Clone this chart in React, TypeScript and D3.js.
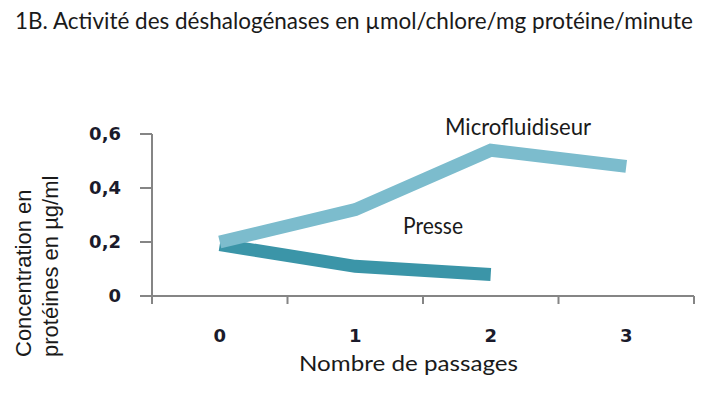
import React, { useEffect, useRef } from "react";
import * as d3 from "d3";

// data
const passages = ["0", "1", "2", "3"];
const microfluidiseur = [0.2, 0.32, 0.54, 0.48];
const presse = [0.19, 0.11, 0.08];
const yTicks = [0, 0.2, 0.4, 0.6];
const yTickLabels = ["0", "0,2", "0,4", "0,6"];

const title = "1B. Activité des déshalogénases en µmol/chlore/mg protéine/minute";

const W = 711;
const H = 396;

const App = () => {
  const svgRef = useRef<SVGSVGElement>(null);

  useEffect(() => {
    const svg = d3.select(svgRef.current);
    svg.selectAll("*").remove();

    const x = d3.scaleBand<string>().domain(passages).range([152, 694]);
    const y = d3.scaleLinear().domain([0, 0.6]).range([296, 134]);
    const cx = (i: number) => (x(passages[i]) as number) + x.bandwidth() / 2;

    const axisColor = "#858585";
    const labelColor = "#1b1b2b";
    const geo = "Lato, 'Open Sans', sans-serif";

    // title
    svg.append("text")
      .attr("x", 15)
      .attr("y", 29)
      .attr("textLength", 678)
      .attr("lengthAdjust", "spacingAndGlyphs")
      .attr("font-family", geo)
      .attr("font-size", 23)
      .attr("fill", "#1a1a1a")
      .text(title);

    // axes lines
    svg.append("line")
      .attr("x1", 152).attr("x2", 152)
      .attr("y1", y(0.6)).attr("y2", 303)
      .attr("stroke", axisColor).attr("stroke-width", 2);
    svg.append("line")
      .attr("x1", 140).attr("x2", 694)
      .attr("y1", y(0)).attr("y2", y(0))
      .attr("stroke", axisColor).attr("stroke-width", 2);

    // y ticks + labels
    yTicks.forEach((t, i) => {
      svg.append("line")
        .attr("x1", 140).attr("x2", 152)
        .attr("y1", y(t)).attr("y2", y(t))
        .attr("stroke", axisColor).attr("stroke-width", 2);
      svg.append("text")
        .attr("x", 121)
        .attr("y", y(t))
        .attr("dy", "0.36em")
        .attr("text-anchor", "end")
        .attr("font-family", "'DejaVu Sans', Verdana, sans-serif")
        .attr("font-weight", "bold")
        .attr("font-size", 18)
        .attr("fill", labelColor)
        .text(yTickLabels[i]);
    });

    // x ticks at category boundaries
    const bounds = passages.map(p => x(p) as number).concat([694]);
    bounds.forEach(b => {
      svg.append("line")
        .attr("x1", b).attr("x2", b)
        .attr("y1", y(0)).attr("y2", 304)
        .attr("stroke", axisColor).attr("stroke-width", 2);
    });
    passages.forEach((p, i) => {
      svg.append("text")
        .attr("x", cx(i))
        .attr("y", 342)
        .attr("text-anchor", "middle")
        .attr("font-family", "'DejaVu Sans', Verdana, sans-serif")
        .attr("font-weight", "bold")
        .attr("font-size", 18)
        .attr("fill", labelColor)
        .text(p);
    });

    // axis titles
    svg.append("text")
      .attr("x", 299)
      .attr("y", 371)
      .attr("textLength", 219)
      .attr("lengthAdjust", "spacingAndGlyphs")
      .attr("font-family", geo)
      .attr("font-size", 21)
      .attr("fill", "#1a1a1a")
      .text("Nombre de passages");

    const yTitle = svg.append("text")
      .attr("transform", "rotate(-90)")
      .attr("font-family", "'Liberation Sans', Arial, sans-serif")
      .attr("font-size", 22)
      .attr("fill", "#1a1a1a");
    yTitle.append("tspan").attr("x", -357).attr("y", 31).text("Concentration en");
    yTitle.append("tspan").attr("x", -357).attr("y", 58).text("protéines en µg/ml");

    // series lines
    const line = d3.line<number>()
      .x((_, i) => cx(i))
      .y(d => y(d));

    svg.append("path")
      .attr("d", line(presse))
      .attr("fill", "none")
      .attr("stroke", "#3b95a8")
      .attr("stroke-width", 13)
      .attr("stroke-linejoin", "miter");

    svg.append("path")
      .attr("d", line(microfluidiseur))
      .attr("fill", "none")
      .attr("stroke", "#7cbccd")
      .attr("stroke-width", 13)
      .attr("stroke-linejoin", "miter");

    // series labels
    svg.append("text")
      .attr("x", 445)
      .attr("y", 135)
      .attr("textLength", 146)
      .attr("lengthAdjust", "spacingAndGlyphs")
      .attr("font-family", geo)
      .attr("font-size", 23)
      .attr("fill", "#1a1a1a")
      .text("Microfluidiseur");

    svg.append("text")
      .attr("x", 403)
      .attr("y", 234)
      .attr("textLength", 60)
      .attr("lengthAdjust", "spacingAndGlyphs")
      .attr("font-family", geo)
      .attr("font-size", 23)
      .attr("fill", "#1a1a1a")
      .text("Presse");
  }, []);

  return (
    <svg
      ref={svgRef}
      width={W}
      height={H}
      style={{ position: "absolute", left: 0, top: 0, background: "#fff" }}
    />
  );
};

export default App;
